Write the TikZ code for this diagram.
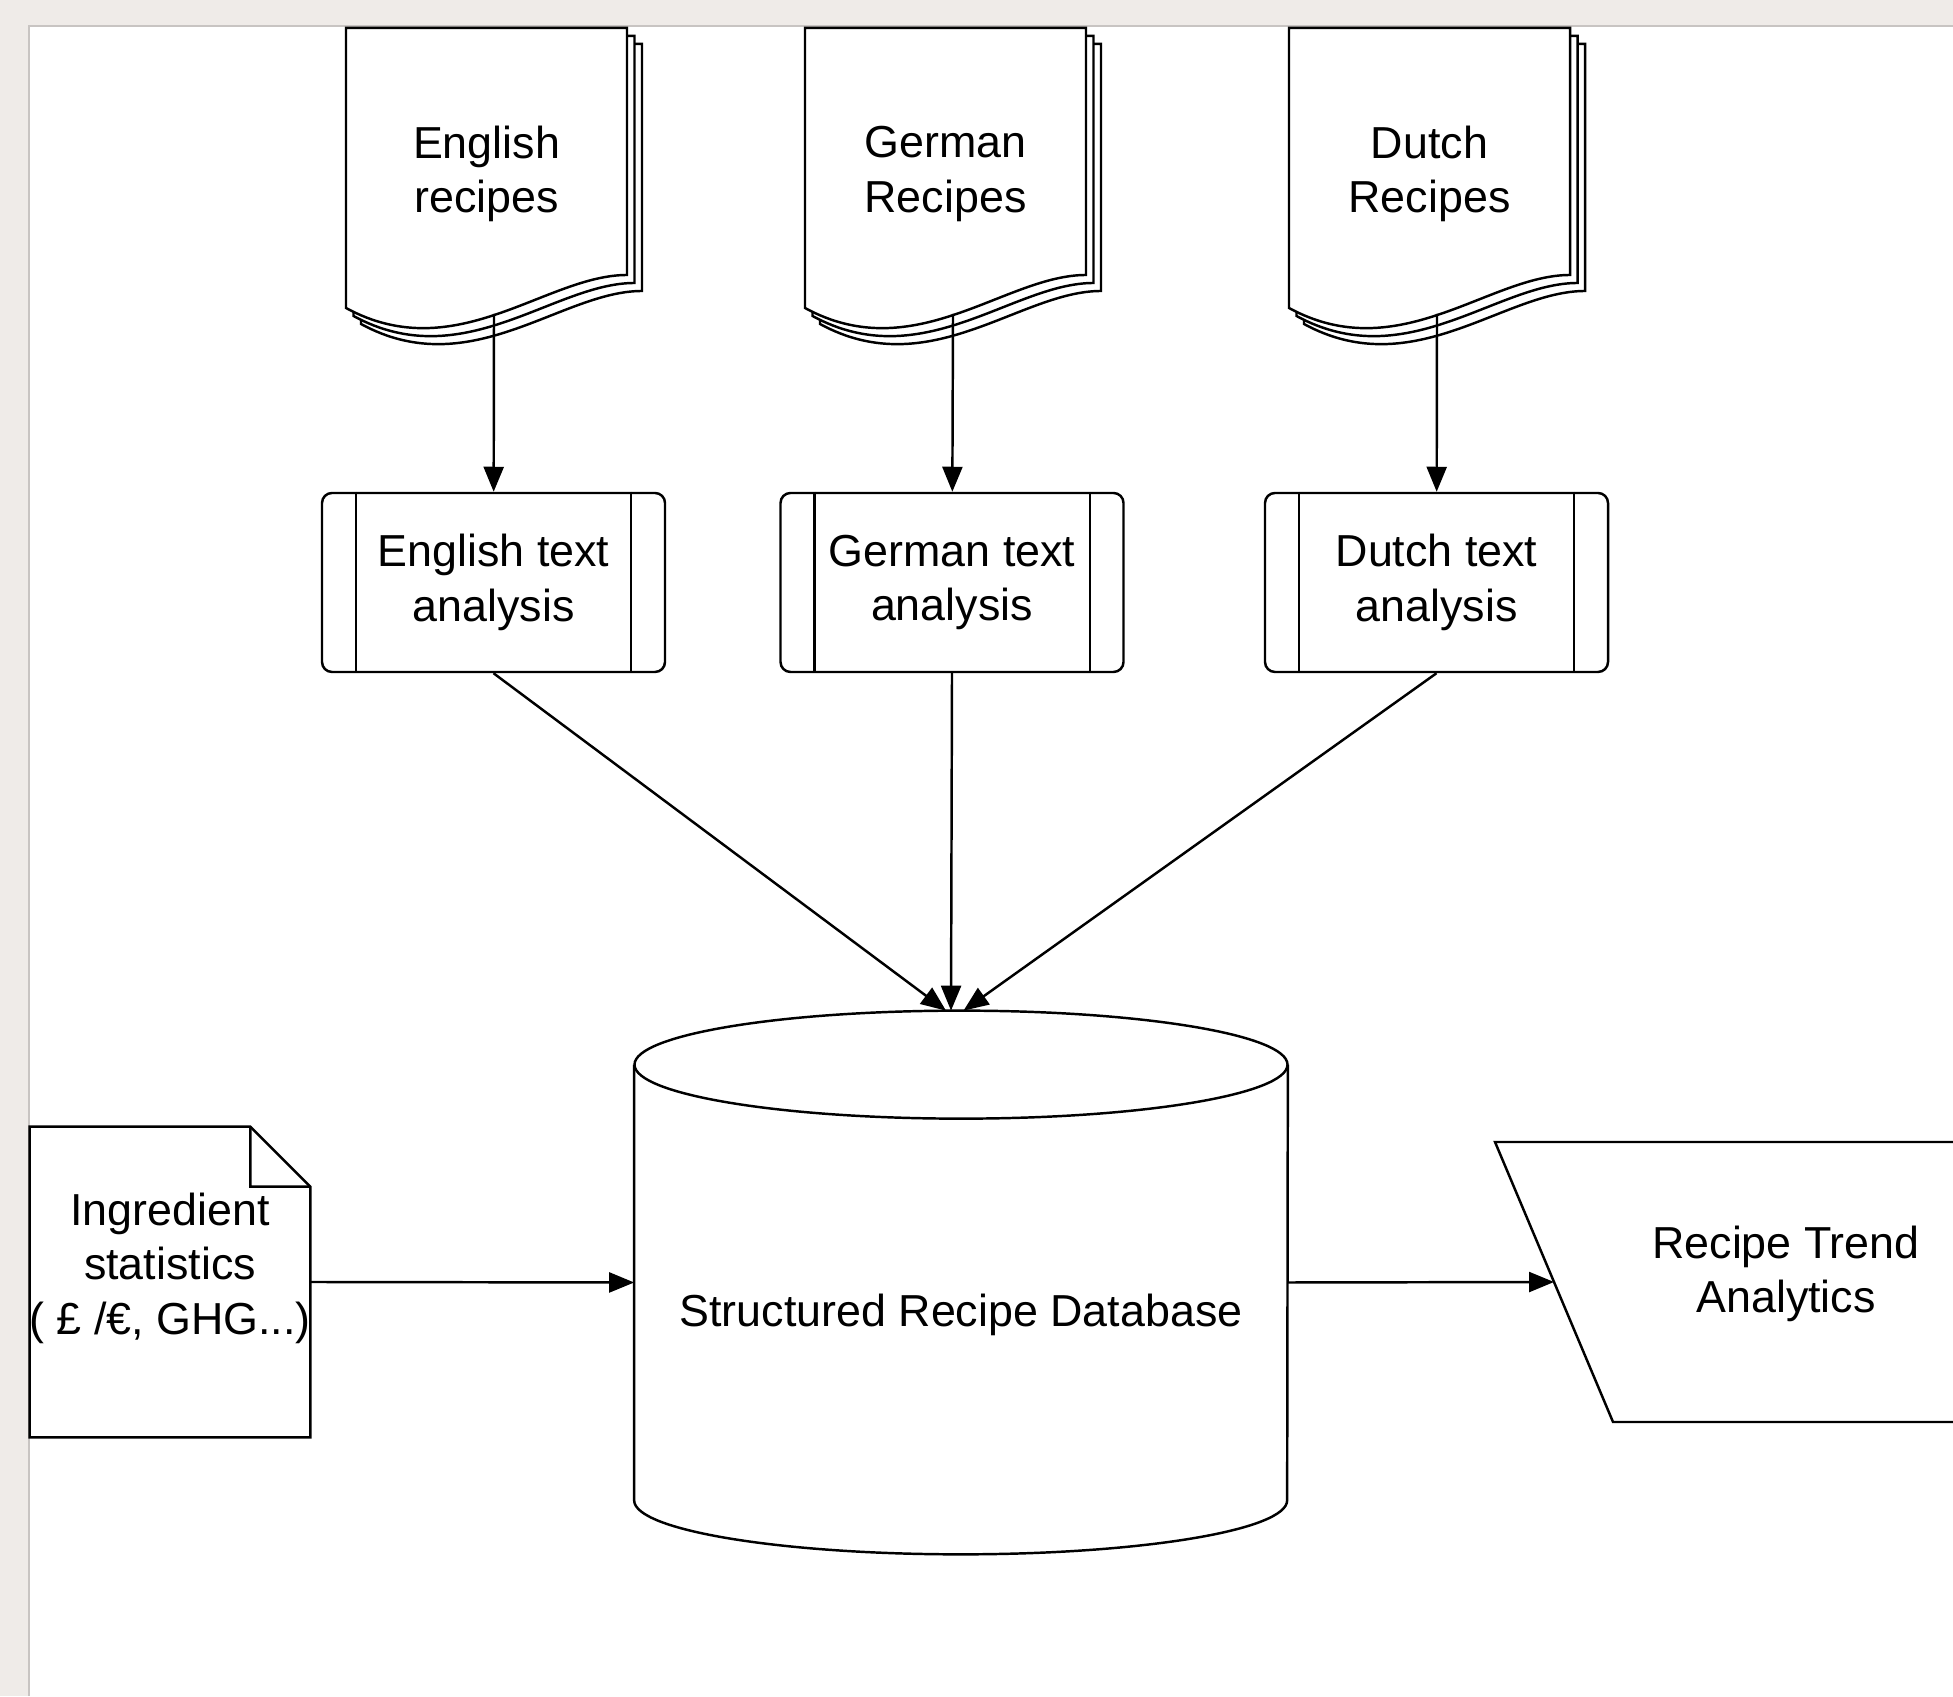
\documentclass[tikz,border=0pt]{standalone}
\usepackage{fontspec}
\setmainfont{Liberation Sans}
\usepackage{tikz}
\usetikzlibrary{arrows.meta, positioning, calc}
\definecolor{canvasgrey}{RGB}{239,235,232}
\definecolor{panelline}{RGB}{200,196,194}

\begin{document}
\begin{tikzpicture}[
    font=\fontsize{25.5}{31}\selectfont,
    line/.style={draw=black, line width=1.4pt},
    flow/.style={line, -{Triangle[length=0.5cm, width=0.4cm]}},
    page/.style={line, fill=white},
    doclabel/.style={align=center, inner sep=0pt},
    proc/.style={line, rounded corners=0.2cm, fill=white,
                 minimum width=6.86cm, minimum height=3.58cm, align=center},
    store/.style={minimum width=13.06cm, minimum height=10.86cm, inner sep=0pt},
    noteshape/.style={minimum width=5.6cm, minimum height=6.2cm, inner sep=0pt}
]
    \useasboundingbox (0,0) rectangle (39.06,33.92);
    \clip (0,0) rectangle (39.06,33.92);

    % Canvas
    \fill[canvasgrey] (0,0) rectangle (39.06,33.92);
    \fill[white] (0.58,0) rectangle (39.06,33.40);
    \draw[panelline, line width=1pt] (0.58,0) -- (0.58,33.40) -- (39.06,33.40);

    % Recipe collections
    \foreach \x/\id/\txt in {6.92/eng/{English\\recipes}, 16.10/ger/{German\\Recipes}, 25.78/dut/{Dutch\\Recipes}} {
        \foreach \o in {2,1,0}
            \draw[page] (\x+0.15*\o, 33.36-0.16*\o) -- ++(5.62,0) -- ++(0,-4.94)
                .. controls +(-1.62,0) and +(2.2,-1.2) .. ++(-5.62,-0.66) -- cycle;
        \node[doclabel] (\id doc) at (\x+2.81, 30.44) {\txt};
        \coordinate (\id out) at (\x+2.96, 27.64);
    }

    % Text analysis steps
    \node[proc] (engana) at (9.87, 22.27) {English text\\analysis};
    \node[proc] (gerana) at (19.04, 22.27) {German text\\analysis};
    \node[proc] (dutana) at (28.73, 22.27) {Dutch text\\analysis};
    \foreach \n in {engana, gerana, dutana} {
        \draw[line] ([xshift=0.7cm]\n.north west) -- ([xshift=0.7cm]\n.south west);
        \draw[line] ([xshift=-0.7cm]\n.north east) -- ([xshift=-0.7cm]\n.south east);
    }

    % Database
    \node[store] (db) at (19.22, 8.27) {};
    \draw[page] ([yshift=-1.08cm]db.north west) -- ([yshift=1.08cm]db.south west)
        arc[start angle=180, end angle=360, x radius=6.53cm, y radius=1.08cm]
        -- ([yshift=-1.08cm]db.north east);
    \draw[page] ([yshift=-1.08cm]db.north) ellipse [x radius=6.53cm, y radius=1.08cm];
    \node (dbtext) at ([yshift=-0.64cm]db.center) {Structured Recipe Database};

    % Ingredient statistics
    \node[noteshape] (note) at (3.4, 8.28) {};
    \draw[page] (note.north west) -- ([xshift=-1.2cm]note.north east)
        -- ([yshift=-1.2cm]note.north east) -- (note.south east) -- (note.south west) -- cycle;
    \draw[line] ([xshift=-1.2cm]note.north east) -- ++(0,-1.2) -- ([yshift=-1.2cm]note.north east);
    \node[align=center] (notetext) at (3.4, 8.56) {Ingredient\\statistics\\( £ /€, GHG...)};

    % Analytics output
    \coordinate (trendtl) at (29.9, 11.08);
    \coordinate (trendbl) at (32.26, 5.48);
    \draw[page] (40.5, 11.08) -- (trendtl) -- (trendbl) -- (40.5, 5.48);
    \coordinate (trendin) at ($(trendtl)!0.5!(trendbl)$);
    \node[align=center] (trend) at (35.72, 8.44) {Recipe Trend\\Analytics};

    % Connectors
    \foreach \s in {eng, ger, dut}
        \draw[flow] (\s out) -- (\s ana);
    \draw[flow] (engana.south) -- ([xshift=-0.3cm]db.north);
    \draw[flow] (gerana.south) -- ([xshift=-0.2cm]db.north);
    \draw[flow] (dutana.south) -- ([xshift=0.05cm]db.north);
    \draw[flow] (note.east) -- (db.west);
    \draw[flow] (db.east) -- (trendin);
\end{tikzpicture}
\end{document}
